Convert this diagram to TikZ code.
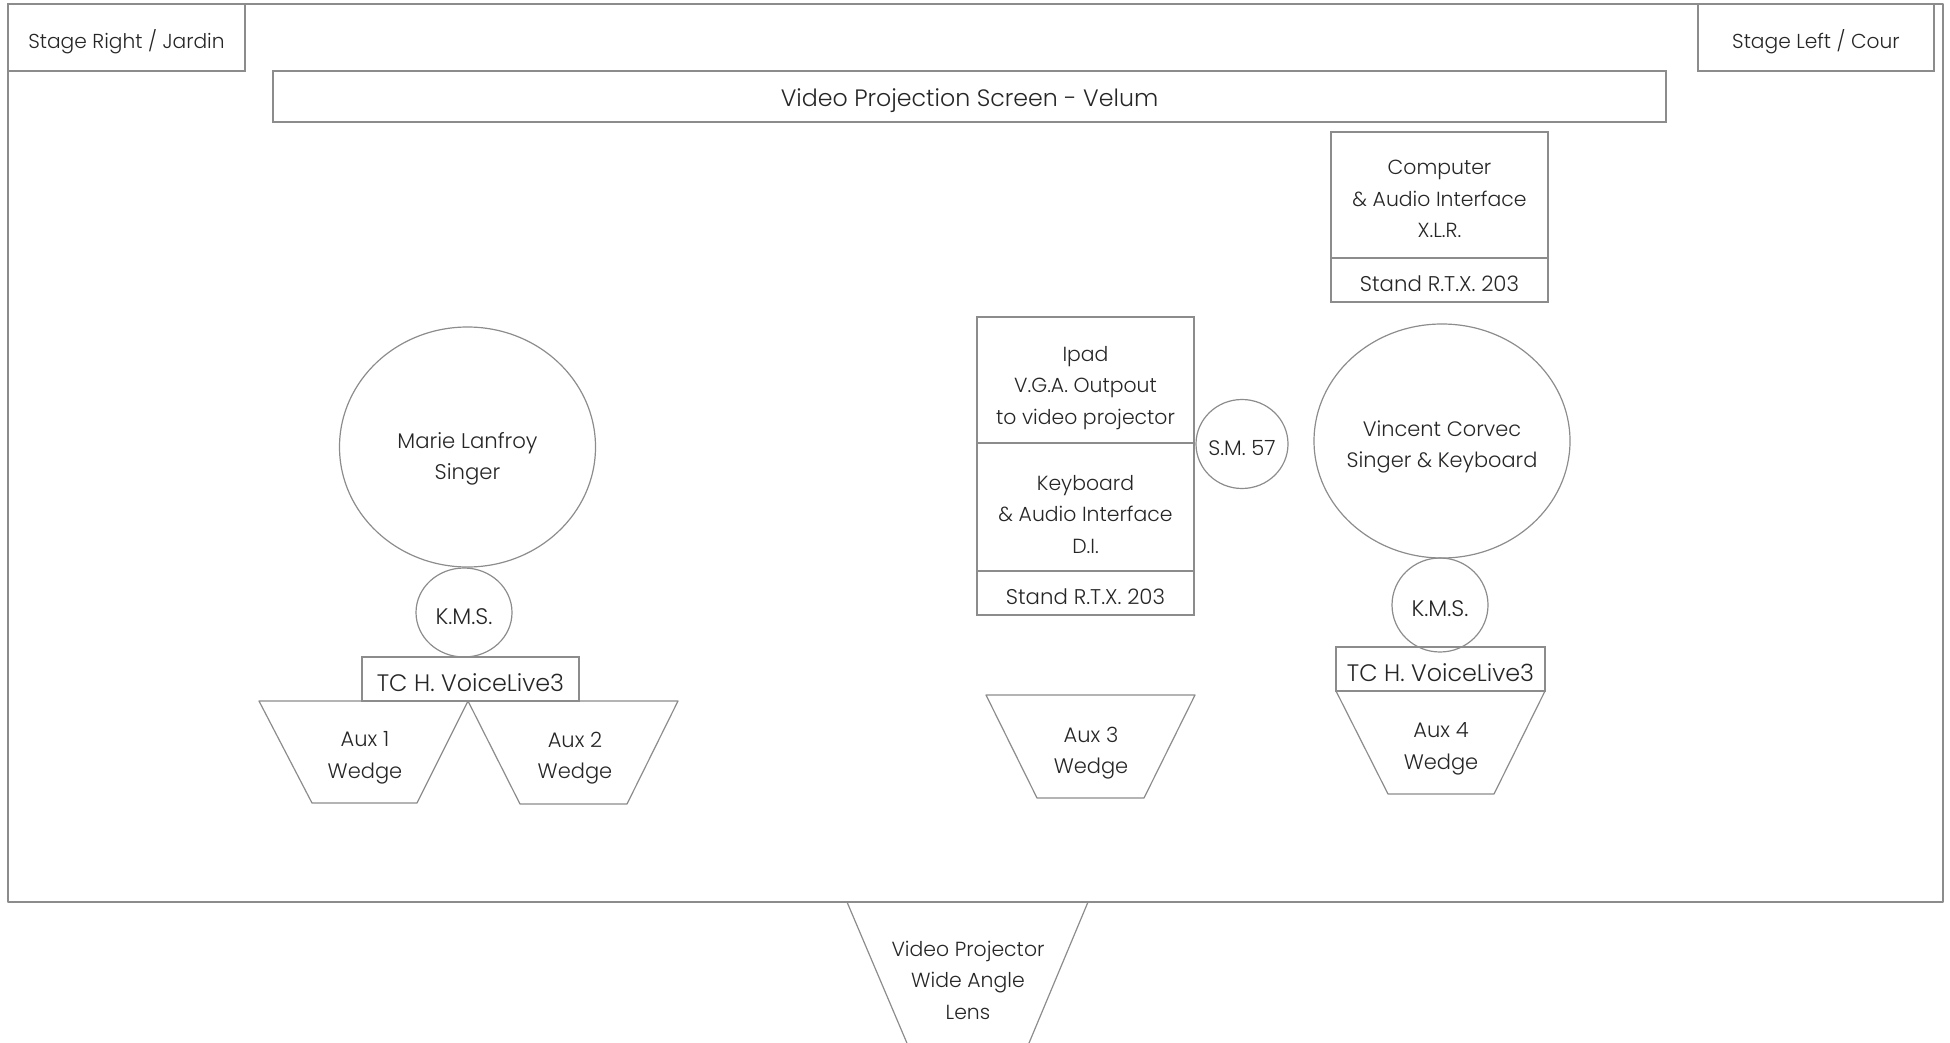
\documentclass[tikz,border=0pt]{standalone}
\usepackage{fontspec}
\setmainfont{Poppins Light}
\usetikzlibrary{shapes.geometric}
\definecolor{linec}{HTML}{8C8C8C}
\definecolor{txtc}{HTML}{262626}
\newcommand\lblfont{\fontsize{21}{31.5}\selectfont}
\newcommand\fsz[1]{\fontsize{#1}{31.5}\selectfont}
\begin{document}
\begin{tikzpicture}[x=1pt,y=-1pt,
  txt/.style={text=txtc, font=\lblfont, align=center, inner sep=0pt, yshift=-4pt},
  box/.style={draw=linec, line width=1.2pt, rectangle, inner sep=0pt},
  oval/.style={draw=linec, line width=1.2pt, ellipse, inner sep=0pt},
  wedge/.style={draw=linec, line width=1.2pt, line join=round}]
\useasboundingbox (0,0) rectangle (1950,1043);
\clip (0,0) rectangle (1950,1043);
% stage
\draw[wedge] (8,4) rectangle (1943,902);
\node[box, minimum width=237pt, minimum height=67pt] (sr) at (126.5,37.5) {};
\node[txt, font=\fsz{20.2}] (srt) at (sr.center) {Stage Right / Jardin};
\node[box, minimum width=236pt, minimum height=67pt] (sl) at (1816,37.5) {};
\node[txt, font=\fsz{20.2}] (slt) at (sl.center) {Stage Left / Cour};
\node[box, minimum width=1393pt, minimum height=51pt] (screen) at (969.5,96.5) {};
\node[txt, font=\fsz{23.7}] (screent) at (screen.center) {Video Projection Screen - Velum};
% computer
\node[box, minimum width=217pt, minimum height=126pt] (comp) at (1439.5,195) {};
\node[txt, font=\fsz{20.4}] (compt) at (comp.center) {Computer\\\& Audio Interface\\X.L.R.};
\node[box, minimum width=217pt, minimum height=44pt] (compstand) at (1439.5,280) {};
\node[txt, font=\fsz{21.3}] (compstandt) at (compstand.center) {Stand R.T.X. 203};
% ipad / keyboard
\node[box, minimum width=217pt, minimum height=126pt] (ipad) at (1085.5,380) {};
\node[txt, font=\fsz{20.4}] (ipadt) at (1085.5,384) {Ipad\\V.G.A. Outpout\\to video projector};
\node[box, minimum width=217pt, minimum height=128pt] (kbd) at (1085.5,507) {};
\node[txt, font=\fsz{20.4}] (kbdt) at (1085.5,510) {Keyboard\\\& Audio Interface\\D.I.};
\node[box, minimum width=217pt, minimum height=44pt] (kbdstand) at (1085.5,593) {};
\node[txt, font=\fsz{21.3}] (kbdstandt) at (kbdstand.center) {Stand R.T.X. 203};
\node[oval, minimum width=92pt, minimum height=89pt] (sm57) at (1242,444) {};
\node[txt] (sm57t) at (sm57.center) {S.M. 57};
% Vincent
\node[oval, minimum width=256pt, minimum height=234pt] (vinc) at (1442,441) {};
\node[txt, font=\fsz{20.9}] (vinct) at (1442,443) {Vincent Corvec\\Singer \& Keyboard};
\node[oval, minimum width=96pt, minimum height=94pt] (kms2) at (1440,605) {};
\node[txt, font=\fsz{22.5}] (kms2t) at (kms2.center) {K.M.S.};
\node[box, minimum width=209pt, minimum height=44pt] (tc2) at (1440.5,669) {};
\node[txt, font=\fsz{23.8}] (tc2t) at (tc2.center) {TC H. VoiceLive3};
\draw[wedge] (1336,691) -- (1545,691) -- (1494,794) -- (1388,794) -- cycle;
\node[txt] (aux4) at (1441,745) {Aux 4\\Wedge};
% Aux 3
\draw[wedge] (986,695) -- (1195,695) -- (1144,798) -- (1037,798) -- cycle;
\node[txt] (aux3) at (1091,749) {Aux 3\\Wedge};
% Marie
\node[oval, minimum width=256pt, minimum height=240pt] (marie) at (467.5,447) {};
\node[txt, font=\fsz{21.2}] (mariet) at (467.5,455) {Marie Lanfroy\\Singer};
\node[oval, minimum width=96pt, minimum height=89pt] (kms1) at (464,612.5) {};
\node[txt, font=\fsz{22.5}] (kms1t) at (kms1.center) {K.M.S.};
\node[box, minimum width=217pt, minimum height=44pt] (tc1) at (470.5,679) {};
\node[txt, font=\fsz{23.8}] (tc1t) at (tc1.center) {TC H. VoiceLive3};
\draw[wedge] (259,701) -- (468,701) -- (417,803) -- (312,803) -- cycle;
\node[txt] (aux1) at (365,754) {Aux 1\\Wedge};
\draw[wedge] (468,701) -- (678,701) -- (627,804) -- (520,804) -- cycle;
\node[txt] (aux2) at (575,754) {Aux 2\\Wedge};
% projector
\draw[wedge] (847,902) -- (1088,902) -- (1024,1055) -- (912,1055) -- cycle;
\node[txt, font=\fsz{20.4}] (proj) at (968,976) {Video Projector\\Wide Angle\\Lens};
\end{tikzpicture}
\end{document}
